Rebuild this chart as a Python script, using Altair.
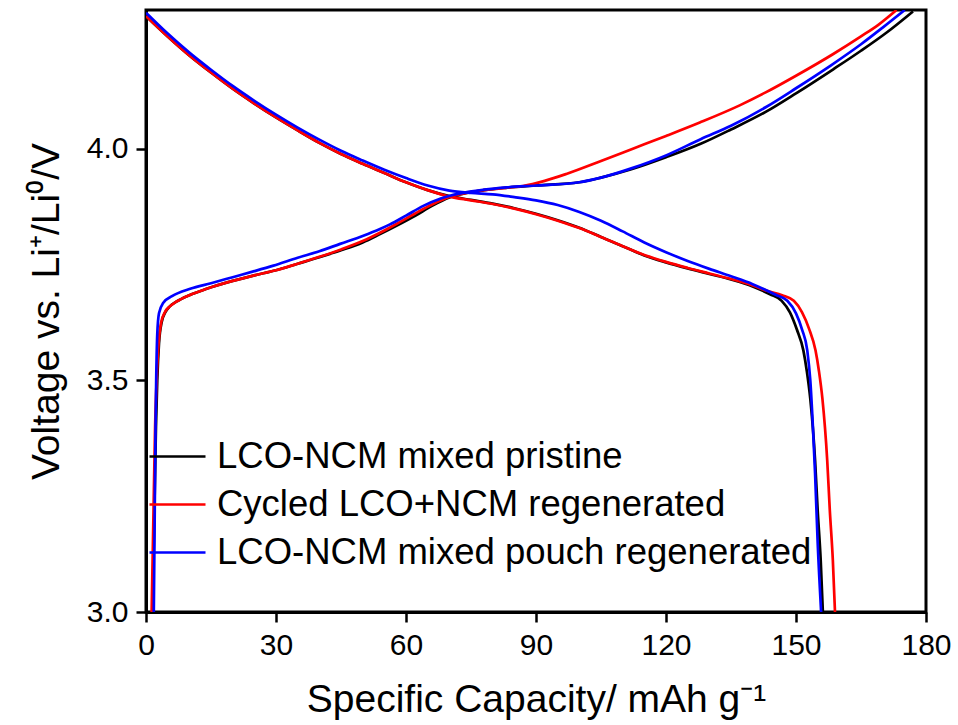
import altair as alt
import pandas as pd

series_names = [
    "LCO-NCM mixed pristine",
    "Cycled LCO+NCM regenerated",
    "LCO-NCM mixed pouch regenerated",
]
series_colors = ["#000000", "#ff0000", "#0000ff"]

# ---- LCO-NCM mixed pristine (black) ----
black_charge_x = [1.5, 1.9, 2.3, 2.6, 3.0, 3.6, 4.5, 5.5, 7, 10, 14, 20, 25, 30, 35, 40, 45, 50, 54, 58, 62, 66, 70, 74, 78, 83, 90, 100, 105, 112, 120, 128, 135, 143, 150, 158.6, 165, 171, 177]
black_charge_y = [3.00, 3.20, 3.40, 3.50, 3.58, 3.625, 3.648, 3.660, 3.670, 3.684, 3.698, 3.715, 3.727, 3.738, 3.752, 3.766, 3.781, 3.798, 3.816, 3.835, 3.855, 3.877, 3.895, 3.905, 3.911, 3.916, 3.921, 3.928, 3.938, 3.956, 3.982, 4.011, 4.042, 4.080, 4.120, 4.172, 4.212, 4.252, 4.297]
black_dis_x = [0, 5, 10, 15, 20, 25, 30, 35, 40, 45, 50, 55, 60, 65, 70, 75, 80, 85, 90, 95, 100, 105, 110, 115, 120, 125, 130, 135, 140, 144, 146.7, 148.6, 150.2, 151.7, 152.5, 153.3, 154.4, 155.0, 155.7, 156.2]
black_dis_y = [4.287, 4.243, 4.202, 4.165, 4.130, 4.098, 4.068, 4.040, 4.013, 3.989, 3.968, 3.948, 3.928, 3.911, 3.898, 3.890, 3.882, 3.872, 3.860, 3.846, 3.830, 3.810, 3.790, 3.770, 3.755, 3.742, 3.730, 3.718, 3.703, 3.686, 3.672, 3.647, 3.610, 3.565, 3.520, 3.460, 3.328, 3.220, 3.112, 3.000]

# ---- Cycled LCO+NCM regenerated (red) ----
red_charge_x = [1.3, 1.7, 2.1, 2.45, 2.9, 3.5, 4.4, 5.5, 7, 10, 14, 20, 25, 30, 35, 40, 45, 50, 54, 58, 62, 66, 70, 74, 78, 83, 87, 92, 97, 105, 112.5, 120, 127.8, 137, 143, 150, 158.6, 165, 169, 173.2]
red_charge_y = [3.00, 3.20, 3.40, 3.50, 3.58, 3.625, 3.648, 3.660, 3.670, 3.684, 3.698, 3.715, 3.727, 3.738, 3.752, 3.767, 3.783, 3.801, 3.819, 3.839, 3.860, 3.880, 3.896, 3.905, 3.911, 3.916, 3.920, 3.931, 3.946, 3.974, 4.001, 4.028, 4.057, 4.094, 4.122, 4.158, 4.205, 4.243, 4.268, 4.300]
red_dis_x = [0, 5, 10, 15, 20, 25, 30, 35, 40, 45, 50, 55, 60, 65, 70, 75, 80, 85, 90, 95, 100, 105, 110, 115, 120, 125, 130, 135, 140, 143.5, 146.8, 149.5, 151.4, 153.0, 154.5, 155.3, 156.1, 157.2, 157.8, 158.5, 159.0]
red_dis_y = [4.287, 4.243, 4.202, 4.165, 4.130, 4.098, 4.068, 4.040, 4.013, 3.989, 3.968, 3.948, 3.928, 3.911, 3.897, 3.889, 3.881, 3.871, 3.859, 3.845, 3.829, 3.810, 3.790, 3.771, 3.756, 3.743, 3.731, 3.719, 3.705, 3.693, 3.684, 3.672, 3.647, 3.612, 3.565, 3.520, 3.460, 3.328, 3.220, 3.112, 3.000]

# ---- LCO-NCM mixed pouch regenerated (blue) ----
blue_charge_x = [1.8, 2.0, 2.2, 2.35, 2.6, 3.0, 4.0, 6, 10.2, 15, 20, 25, 29.4, 35, 40, 44.8, 50, 54, 56.3, 60, 64, 68, 72.5, 78, 83.2, 90, 100, 105, 112, 120, 128, 135, 143, 150, 158, 165, 170, 175.1]
blue_charge_y = [3.00, 3.20, 3.40, 3.50, 3.60, 3.645, 3.668, 3.682, 3.698, 3.710, 3.723, 3.736, 3.748, 3.765, 3.779, 3.795, 3.812, 3.827, 3.837, 3.856, 3.877, 3.893, 3.904, 3.912, 3.917, 3.921, 3.928, 3.938, 3.958, 3.986, 4.021, 4.050, 4.090, 4.131, 4.180, 4.226, 4.262, 4.300]
blue_dis_x = [0, 5, 10, 15, 20, 25, 30, 35, 40, 45, 50, 55, 60, 65, 70, 75, 80, 85, 90, 95, 100, 105, 110, 115, 120, 125, 130, 135, 140, 145.3, 148.0, 150.0, 151.4, 152.6, 153.3, 153.9, 154.4, 155.0, 155.8]
blue_dis_y = [4.294, 4.249, 4.208, 4.171, 4.136, 4.104, 4.074, 4.046, 4.020, 3.996, 3.975, 3.955, 3.937, 3.921, 3.910, 3.905, 3.902, 3.896, 3.889, 3.879, 3.864, 3.845, 3.822, 3.798, 3.777, 3.758, 3.741, 3.725, 3.708, 3.685, 3.672, 3.645, 3.610, 3.565, 3.500, 3.400, 3.300, 3.150, 3.000]

x_ticks = [0, 30, 60, 90, 120, 150, 180]
y_ticks = [3.0, 3.5, 4.0]

rows = []
curves = [
    (series_names[0], "charge", black_charge_x, black_charge_y),
    (series_names[0], "discharge", black_dis_x, black_dis_y),
    (series_names[1], "charge", red_charge_x, red_charge_y),
    (series_names[1], "discharge", red_dis_x, red_dis_y),
    (series_names[2], "charge", blue_charge_x, blue_charge_y),
    (series_names[2], "discharge", blue_dis_x, blue_dis_y),
]
for name, seg, xs, ys in curves:
    for i, (xv, yv) in enumerate(zip(xs, ys)):
        rows.append({"series": name, "segment": name + " " + seg, "cap": xv, "volt": yv, "idx": i})
df = pd.DataFrame(rows)

FONT = "Liberation Sans"

chart = alt.Chart(df).mark_line(strokeWidth=2.7, interpolate="monotone", clip=True).encode(
    x=alt.X("cap:Q",
            scale=alt.Scale(domain=[0, 180], nice=False, zero=False),
            axis=alt.Axis(values=x_ticks, title="Specific Capacity/ mAh g\u207b\u00b9",
                          grid=False, labelFontSize=30, titleFontSize=39,
                          titleFontWeight="normal", labelPadding=8, titlePadding=20,
                          tickSize=10, tickWidth=2.5, domainWidth=3,
                          labelFlush=False)),
    y=alt.Y("volt:Q",
            scale=alt.Scale(domain=[3.0, 4.3], nice=False, zero=False),
            axis=alt.Axis(values=y_ticks, format=".1f", title="Voltage vs. Li\u207a/Li\u2070/V",
                          grid=False, labelFontSize=30, titleFontSize=39,
                          titleFontWeight="normal", labelPadding=8, titlePadding=20,
                          tickSize=10, tickWidth=2.5, domainWidth=3,
                          labelFlush=False)),
    color=alt.Color("series:N",
                    scale=alt.Scale(domain=series_names, range=series_colors),
                    legend=alt.Legend(title=None, orient="none", legendX=2, legendY=417,
                                      symbolType="stroke", symbolSize=3136,
                                      symbolStrokeWidth=2.5, labelFontSize=36.5,
                                      labelOffset=10, labelLimit=2000, rowPadding=-16.5,
                                      padding=0, labelColor="#000000")),
    detail="segment:N",
    order="idx:Q",
).properties(
    width=780, height=602,
    background="#ffffff",
    autosize=alt.AutoSizeParams(type="none"),
    padding={"left": 146, "top": 10, "right": 32, "bottom": 113},
).configure_view(
    stroke="#000000", strokeWidth=3
).configure_axis(
    domainColor="#000000", tickColor="#000000", labelColor="#000000",
    titleColor="#000000", labelFont=FONT, titleFont=FONT
).configure_legend(
    labelFont=FONT
)

chart.save("out.html", embed_options={"renderer": "svg", "actions": False})
